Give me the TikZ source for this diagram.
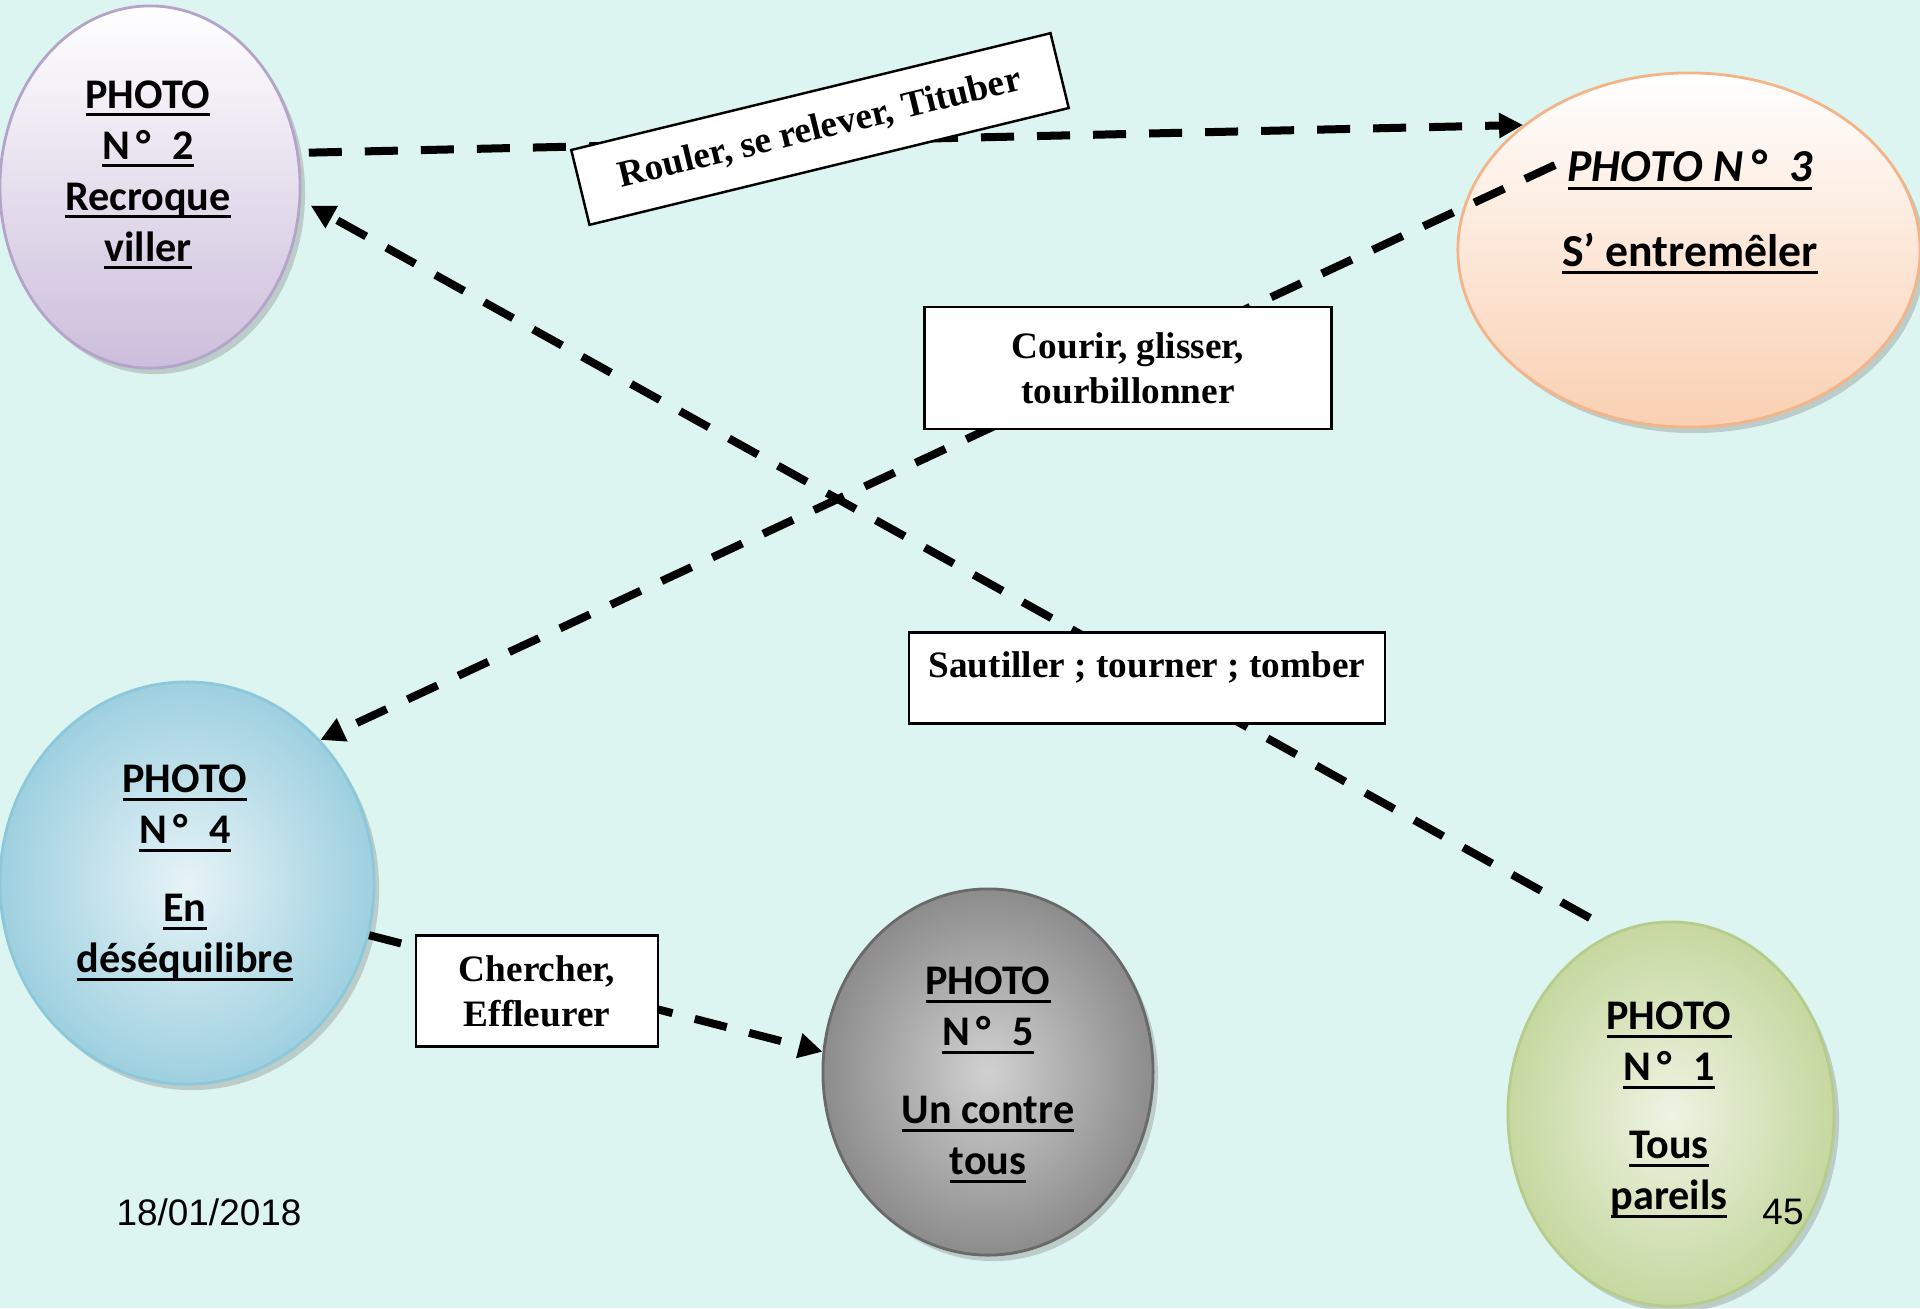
\documentclass[tikz,border=0pt]{standalone}
\usepackage{fontspec}
\setmainfont{Carlito}
\newfontfamily\timesfont{Liberation Serif}
\newfontfamily\arialfont{Liberation Sans}
\usetikzlibrary{shapes.geometric,arrows.meta,shadows}

\definecolor{bgmint}{RGB}{220,245,241}
\definecolor{lilac}{RGB}{204,190,220}
\definecolor{lilacline}{RGB}{180,164,202}
\definecolor{peach}{RGB}{250,208,178}
\definecolor{peachline}{RGB}{244,180,136}
\definecolor{skyblue}{RGB}{158,208,224}
\definecolor{skyline}{RGB}{140,200,218}
\definecolor{stone}{RGB}{140,140,140}
\definecolor{stoneline}{RGB}{105,105,105}
\definecolor{sage}{RGB}{198,216,160}
\definecolor{sageline}{RGB}{182,204,138}

\newsavebox{\ulbox}
\newcommand{\ulbf}[1]{\sbox{\ulbox}{#1}\rlap{\rule[-0.08cm]{\wd\ulbox}{0.03cm}}\usebox{\ulbox}}

\begin{document}
\begin{tikzpicture}[
       x=0.01cm, y=-0.01cm,
       photo/.style={ellipse, draw, line width=0.8pt, inner sep=0pt,
         drop shadow={shadow xshift=0.05cm, shadow yshift=-0.06cm, opacity=0.35}},
       phototext/.style={align=center, font=\bfseries\fontsize{12pt}{14.5pt}\selectfont},
       verb/.style={rectangle, draw=black, line width=0.7pt, fill=white, align=center,
         font=\timesfont\bfseries\fontsize{10.6pt}{12.9pt}\selectfont},
       flow/.style={-{Triangle[length=0.24cm,width=0.24cm]}, line width=0.08cm,
         dash pattern=on 0.33cm off 0.23cm},
       footer/.style={font=\arialfont\fontsize{10.5pt}{12pt}\selectfont}
   ]
   \fill[bgmint] (0,0) rectangle (1920,1308);
   \useasboundingbox (0,0) rectangle (1920,1308);

   % the five photos
   \node[photo, draw=lilacline, top color=white, bottom color=lilac,
     minimum width=3cm, minimum height=3.62cm] (photo2) at (150,187) {};
   \node[photo, draw=peachline, top color=white, bottom color=peach,
     minimum width=4.62cm, minimum height=3.54cm] (photo3) at (1689,250) {};
   \node[photo, draw=skyline, inner color=skyblue!25, outer color=skyblue,
     minimum width=3.74cm, minimum height=4.02cm] (photo4) at (187,883) {};
   \node[photo, draw=stoneline, inner color=stone!40, outer color=stone,
     minimum width=3.3cm, minimum height=3.66cm] (photo5) at (988,1072) {};
   \node[photo, draw=sageline, inner color=sage!30, outer color=sage,
     minimum width=3.26cm, minimum height=3.84cm] (photo1) at (1671,1114) {};

   \node[phototext] (title2) at (148,175) {\ulbf{PHOTO}\\\ulbf{N\,°\enspace 2}\\\ulbf{Recroque}\\\ulbf{viller}};
   \node[phototext, font=\bfseries\fontsize{13pt}{15.5pt}\selectfont] (title3) at (1690,212)
     {\ulbf{\itshape PHOTO N\,°\enspace 3}\\[0.3cm]\ulbf{S’ entremêler}};
   \node[phototext] (title4) at (185,873) {\ulbf{PHOTO}\\\ulbf{N\,°\enspace 4}\\[0.27cm]\ulbf{En}\\\ulbf{déséquilibre}};
   \node[phototext] (title5) at (988,1075) {\ulbf{PHOTO}\\\ulbf{N\,°\enspace 5}\\[0.27cm]\ulbf{Un contre}\\\ulbf{tous}};
   \node[phototext] (title1) at (1669,1110) {\ulbf{PHOTO}\\\ulbf{N\,°\enspace 1}\\[0.27cm]\ulbf{Tous}\\\ulbf{pareils}};

   % links
   \coordinate (start3) at (1555,165);
   \coordinate (start1) at (1590,918);
   \draw[flow] ([xshift=0.1cm]photo2.13) -- (photo3.143);
   \draw[flow] (start1) -- ([xshift=0.1cm]photo2.-7);
   \draw[flow] (start3) -- (photo4.47);
   \draw[flow] (photo4.-16) -- (photo5.173);

   \node[verb, rotate=13.7, minimum width=4.93cm, minimum height=0.77cm] (roll) at (820,129) {Rouler, se relever, Tituber};
   \node[verb, minimum width=4.07cm, minimum height=1.22cm] (run) at (1128,368) {Courir, glisser,\\tourbillonner};
   \node[verb, minimum width=4.76cm, minimum height=0.91cm, text depth=0.26cm] (hop) at (1147,678) {Sautiller ; tourner ; tomber};
   \node[verb, minimum width=2.42cm, minimum height=1.11cm] (seek) at (537,991) {Chercher,\\Effleurer};

   \node[footer] (date) at (209,1212) {18/01/2018};
   \node[footer] (page) at (1783,1212) {45};
\end{tikzpicture}
\end{document}
